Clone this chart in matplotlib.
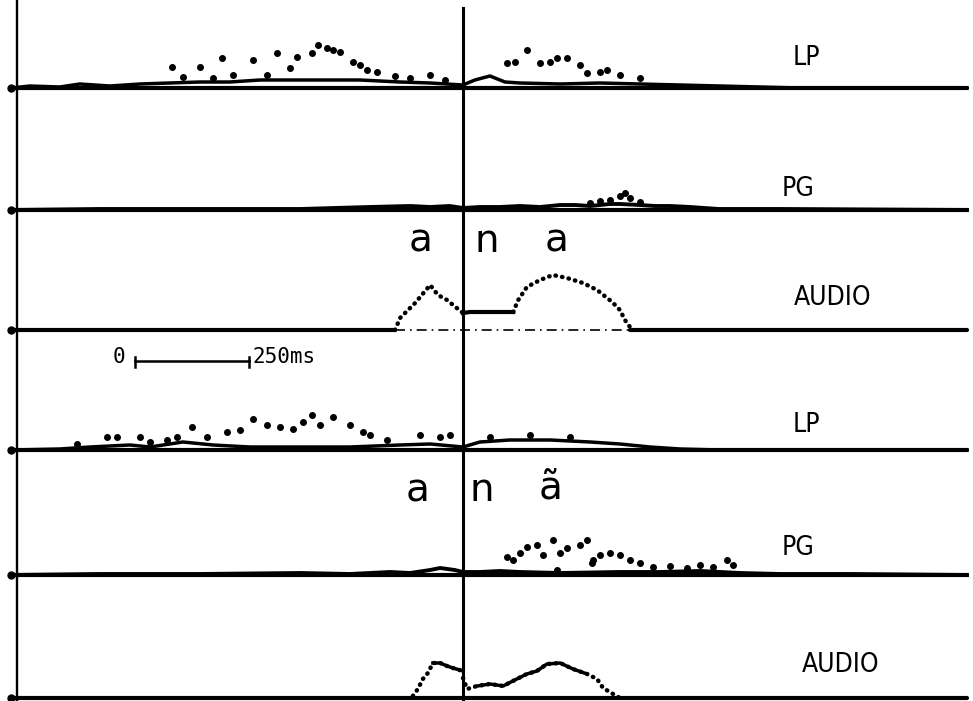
import matplotlib.pyplot as plt
import numpy as np

# time in ms relative to onset of /n/, amplitude in arbitrary units
# --- utterance 1 : "ana" ---
lp1_t = [-990, -950, -884, -840, -774, -708, -643, -577, -511, -445, -379, -292, -226, -138, -72, 0, 26, 59, 92, 125, 213, 300, 388, 476, 564, 651, 739, 1105]
lp1_a = [0, 2, 1, 4, 2, 4, 5, 6, 6, 8, 8, 8, 8, 6, 5, 3, 8, 12, 6, 5, 4, 5, 4, 3, 2, 1, 0, 0]
lp1_dot_t = [-638, -614, -577, -548, -529, -504, -461, -430, -408, -379, -364, -331, -318, -298, -285, -270, -241, -226, -211, -189, -149, -116, -72, -39,
             96, 114, 140, 169, 191, 206, 228, 257, 272, 300, 316, 344, 388]
lp1_dot_a = [21, 11, 21, 10, 30, 13, 28, 13, 35, 20, 31, 35, 43, 40, 38, 36, 26, 23, 18, 16, 12, 10, 13, 8,
             25, 26, 38, 25, 26, 30, 30, 23, 15, 16, 18, 13, 10]

pg1_t = [-990, -796, -577, -357, -204, -116, -72, -29, 0, 37, 81, 125, 169, 213, 246, 279, 300, 322, 344, 388, 421, 454, 498, 560, 700, 1105]
pg1_a = [0, 1, 1, 1, 3, 4, 3, 4, 2, 3, 3, 4, 3, 5, 5, 4, 5, 6, 6, 5, 4, 4, 3, 1, 1, 0]
pg1_dot_t = [279, 300, 322, 344, 355, 366, 388]
pg1_dot_a = [7, 9, 10, 14, 17, 12, 8]

au1_t = [-149, -138, -105, -94, -72, -55, -35, -22, 0]
au1_a = [0, 12, 27, 33, 45, 35, 30, 25, 17]
au1_plateau_t = [0, 15, 110]
au1_plateau_a = [17, 18, 18]
au1_t2 = [110, 121, 140, 169, 197, 228, 263, 294, 327, 344, 355, 366]
au1_a2 = [18, 30, 43, 50, 55, 52, 47, 40, 28, 20, 10, 3]

# --- utterance 2 : "anã" ---
lp2_t = [-990, -884, -818, -730, -686, -614, -548, -467, -357, -248, -138, -72, 0, 37, 103, 191, 279, 344, 410, 476, 564, 1105]
lp2_a = [0, 1, 3, 5, 3, 8, 5, 3, 3, 3, 5, 6, 3, 8, 10, 10, 8, 6, 3, 1, 0, 0]
lp2_dot_t = [-846, -781, -759, -708, -686, -649, -627, -594, -561, -518, -489, -461, -430, -401, -373, -351, -331, -314, -285, -248, -219, -204, -167,
             -94, -50, -29, 59, 147, 235]
lp2_dot_a = [6, 13, 13, 13, 8, 10, 13, 23, 13, 18, 20, 31, 25, 23, 21, 28, 35, 25, 33, 25, 18, 15, 10,
             15, 13, 15, 13, 15, 13]

pg2_t = [-990, -796, -577, -357, -248, -160, -116, -72, -50, -18, 0, 37, 81, 125, 213, 344, 432, 520, 607, 695, 849, 1105]
pg2_a = [0, 1, 1, 2, 1, 3, 2, 5, 7, 5, 3, 3, 4, 3, 2, 3, 3, 4, 2, 1, 1, 0]
pg2_dot_t = [96, 110, 125, 140, 162, 175, 197, 213, 228, 257, 272, 285, 300, 322, 344, 366, 388, 417, 454, 491, 520, 548, 579, 592, 206, 283]
pg2_dot_a = [18, 15, 22, 28, 30, 20, 35, 22, 27, 30, 35, 15, 20, 22, 20, 15, 12, 8, 9, 7, 10, 8, 15, 10, 5, 12]

au2_t = [-110, -99, -88, -77, -66, -50, -35, -22, 0]
au2_a = [2, 9, 19, 25, 35, 35, 32, 30, 27]
au2_t2 = [0, 9, 31, 59, 88, 118, 140, 162, 184, 213, 241, 272, 294, 307, 329, 344]
au2_a2 = [20, 9, 12, 14, 12, 19, 24, 27, 34, 35, 29, 24, 19, 10, 4, 0]

labels = ['LP', 'PG', 'AUDIO', 'LP', 'PG', 'AUDIO']

t_min, t_max = -990, 1105
base = [613, 491, 371, 251, 126, 3]   # vertical offset of each trace

fig = plt.figure(figsize=(9.73, 7.01), dpi=100)
ax = fig.add_axes([0, 0, 1, 1])
ax.set_xlim(-1015, 1118)
ax.set_ylim(0, 701)
ax.axis('off')

k = 'black'
dot = dict(ls='none', marker='o', ms=4, color=k)
dotted = dict(color=k, lw=3.2, ls=(0, (0.1, 1.4)), dash_capstyle='round')

# baselines
for i, b in enumerate(base):
    if i == 2:
        ax.plot([t_min, -149], [b, b], color=k, lw=3, solid_capstyle='round')
        ax.plot([-149, 366], [b, b], color=k, lw=1.2, ls=(0, (6, 3, 1, 3)))
        ax.plot([366, t_max], [b, b], color=k, lw=3, solid_capstyle='round')
    else:
        ax.plot([t_min, t_max], [b, b], color=k, lw=3, solid_capstyle='round')
    ax.plot(t_min, b, 'o', color=k, ms=5)

# LP1
ax.plot(lp1_t, np.array(lp1_a) + base[0], color=k, lw=2.5)
ax.plot(lp1_dot_t, np.array(lp1_dot_a) + base[0], **dot)
# PG1
ax.plot(pg1_t, np.array(pg1_a) + base[1], color=k, lw=2.8)
ax.plot(pg1_dot_t, np.array(pg1_dot_a) + base[1], **dot)
# AUDIO1
ax.plot(au1_t, np.array(au1_a) + base[2], **dotted)
ax.plot(au1_plateau_t, np.array(au1_plateau_a) + base[2], color=k, lw=3)
ax.plot(au1_t2, np.array(au1_a2) + base[2], **dotted)
# LP2
ax.plot(lp2_t, np.array(lp2_a) + base[3], color=k, lw=2.5)
ax.plot(lp2_dot_t, np.array(lp2_dot_a) + base[3], **dot)
# PG2
ax.plot(pg2_t, np.array(pg2_a) + base[4], color=k, lw=2.8)
ax.plot(pg2_dot_t, np.array(pg2_dot_a) + base[4], **dot)
# AUDIO2
ax.plot(au2_t, np.array(au2_a) + base[5], **dotted)
ax.plot(au2_t[4:], np.array(au2_a[4:]) + base[5], color=k, lw=2.5)
ax.plot(au2_t2, np.array(au2_a2) + base[5], **dotted)
ax.plot(au2_t2[2:12], np.array(au2_a2[2:12]) + base[5], color=k, lw=2.5)

# vertical reference lines
ax.plot([0, 0], [0, 693], color=k, lw=2.2)
ax.plot([-978, -978], [0, 701], color=k, lw=1.7)

# channel labels
lab_x = [752, 735, 811, 752, 735, 827]
lab_dy = [30, 21, 32, 25, 27, 33]
for s, x, b, dy in zip(labels, lab_x, base, lab_dy):
    ax.text(x, b + dy, s, ha='center', va='center', fontsize=19,
            family='DejaVu Sans', fontstretch='condensed')

# phonetic segments
seg_font = dict(fontsize=28, ha='center', va='center', family='DejaVu Sans')
ax.text(-92, base[2] + 89, 'a', **seg_font)
ax.text(52, base[2] + 89, 'n', **seg_font)
ax.text(206, base[2] + 89, 'a', **seg_font)
ax.text(-99, base[4] + 85, 'a', **seg_font)
ax.text(41, base[4] + 85, 'n', **seg_font)
ax.text(193, base[4] + 87, 'ã', **seg_font)

# time scale bar
sb_y = base[3] + 89
ax.plot([-719, -469], [sb_y, sb_y], color=k, lw=1.8)
ax.plot([-719, -719], [sb_y - 6, sb_y + 4], color=k, lw=1.8)
ax.plot([-469, -469], [sb_y - 6, sb_y + 4], color=k, lw=1.8)
ax.text(-740, sb_y + 4, '0', ha='right', va='center', fontsize=15, family='DejaVu Sans Mono')
ax.text(-462, sb_y + 4, '250ms', ha='left', va='center', fontsize=15, family='DejaVu Sans Mono')

fig.savefig('out.png', dpi=100)
